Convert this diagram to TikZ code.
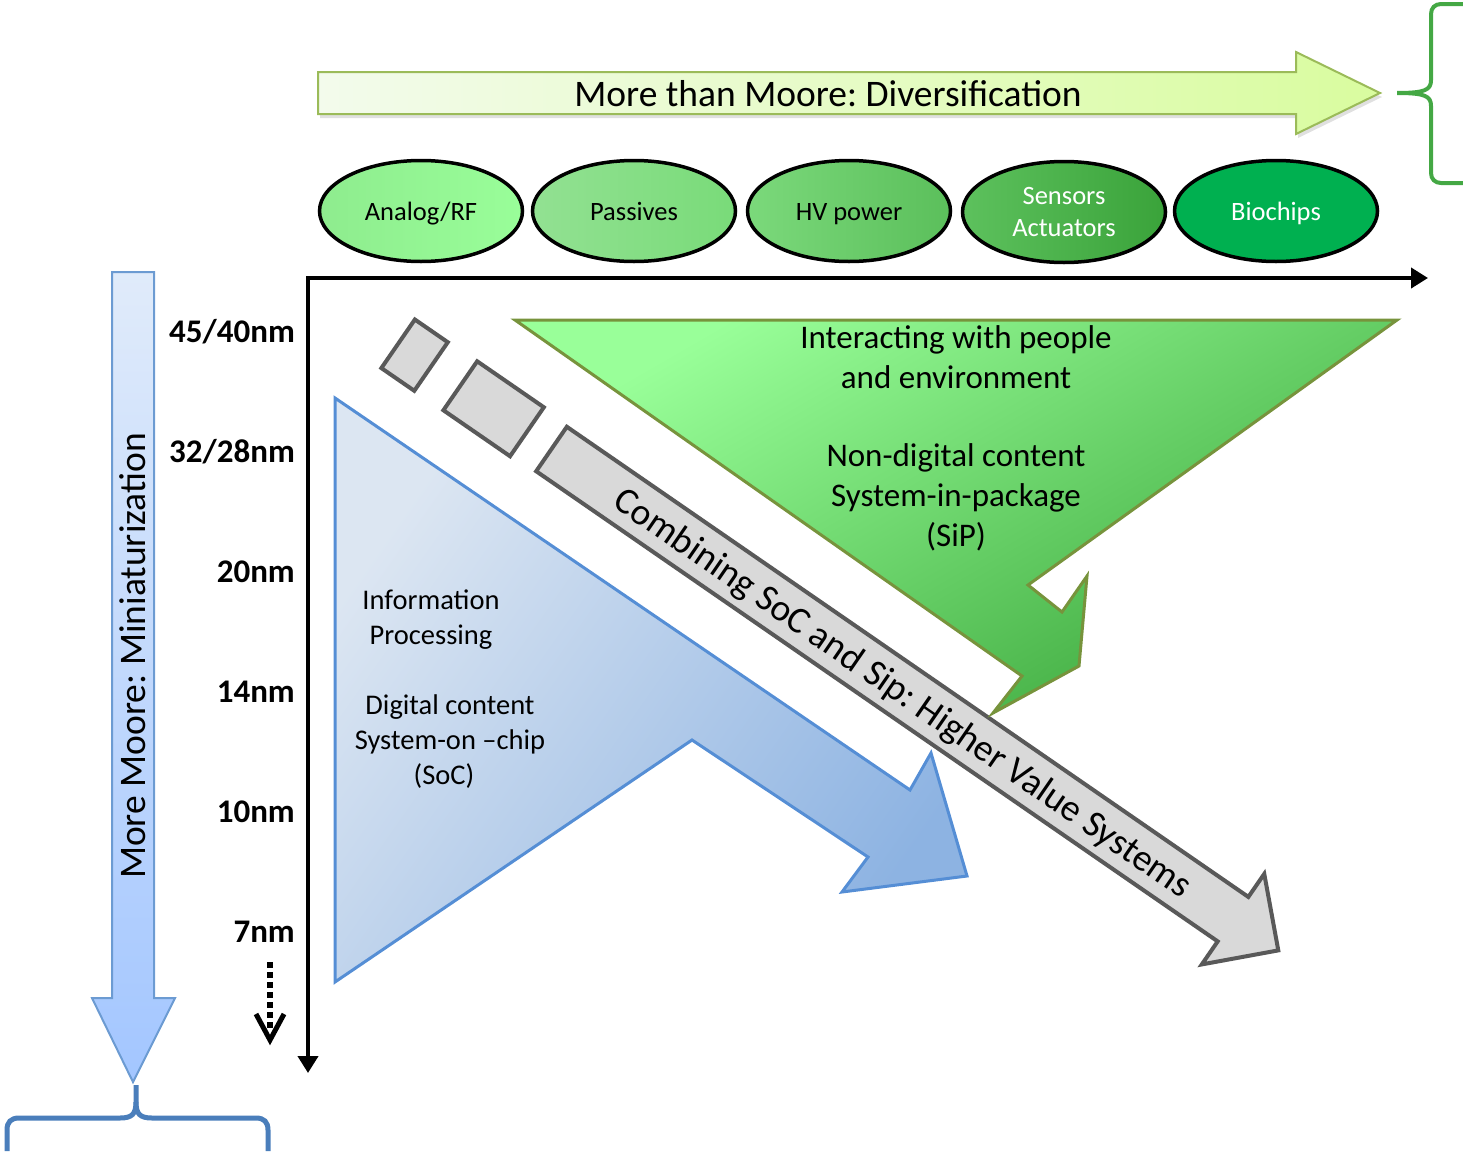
\documentclass[tikz,border=0pt]{standalone}
\usepackage{fontspec}
\setmainfont{Carlito}
\usetikzlibrary{arrows.meta,shapes.geometric}
\definecolor{topL}{HTML}{F3FBEC}
\definecolor{topR}{HTML}{D9FC9F}
\definecolor{topB}{HTML}{9BBB59}
\definecolor{eA1}{HTML}{8EEC8E}
\definecolor{eA2}{HTML}{99FE99}
\definecolor{eB1}{HTML}{92E192}
\definecolor{eB2}{HTML}{79DB79}
\definecolor{eC1}{HTML}{7BD97B}
\definecolor{eC2}{HTML}{5BBF5B}
\definecolor{eD1}{HTML}{5DC15D}
\definecolor{eD2}{HTML}{3AA33A}
\definecolor{eE}{HTML}{00B050}
\definecolor{gT}{HTML}{99FF99}
\definecolor{gB}{HTML}{3EA93E}
\definecolor{gBord}{HTML}{77933C}
\definecolor{bT}{HTML}{DCE6F2}
\definecolor{bB}{HTML}{8DB3E2}
\definecolor{bBord}{HTML}{558ED5}
\definecolor{grF}{HTML}{D9D9D9}
\definecolor{grB}{HTML}{595959}
\definecolor{lT}{HTML}{E0EBFA}
\definecolor{lB}{HTML}{A3C6FF}
\definecolor{lBord}{HTML}{6C9BD2}
\definecolor{bBrace}{HTML}{4A7EBB}
\definecolor{gBrace}{HTML}{44A844}
\tikzset{
  bigtxt/.style={font=\fontsize{37.5}{44}\selectfont},
  elltxt/.style={font=\fontsize{26.5}{32}\selectfont},
  onel/.style={text height=19pt, text depth=0pt},
  greentxt/.style={font=\fontsize{33}{40}\selectfont, align=center},
  bluetxt/.style={font=\fontsize{28.5}{35}\selectfont, align=center},
  nmlab/.style={font=\fontsize{33}{40}\selectfont\bfseries, anchor=east, inner sep=0pt},
  ellbox/.style={ellipse, draw=black, line width=3.5pt, minimum width=203pt, minimum height=101pt, inner sep=0pt, align=center},
  graybox/.style={draw=grB, fill=grF, line width=4pt, line join=miter},
  axisline/.style={line width=4pt, line join=miter},
}
\begin{document}
\frenchspacing
\begin{tikzpicture}[x=1pt,y=-1pt]
\useasboundingbox (0,0) rectangle (1463,1151);

% top arrow (shadow + arrow)
\begin{scope}[shift={(2,4)}]
\fill[black!12] (318,72) -- (1296,72) -- (1296,52) -- (1380,93) -- (1296,134) -- (1296,114) -- (318,114) -- cycle;
\end{scope}
\path[draw=topB, line width=2pt, left color=topL, right color=topR] (318,72) -- (1296,72) -- (1296,52) -- (1380,93) -- (1296,134) -- (1296,114) -- (318,114) -- cycle;
\node[bigtxt] (mtm) at (828,94) {More than Moore: Diversification};

% green brace
\draw[gBrace, line width=4pt] (1463,4) -- (1441,4) .. controls (1435,4) and (1431,8) .. (1431,14) -- (1431,80) .. controls (1431,90) and (1425,93) .. (1397,93) .. controls (1425,93) and (1431,96) .. (1431,106) -- (1431,173) .. controls (1431,179) and (1435,183) .. (1441,183) -- (1463,183);

% ellipses
\node[ellbox, left color=eA1, right color=eA2, elltxt, onel] (e1) at (421,211) {Analog/RF};
\node[ellbox, left color=eB1, right color=eB2, elltxt, onel] (e2) at (634,211) {Passives};
\node[ellbox, left color=eC1, right color=eC2, elltxt, onel] (e3) at (849,211) {HV power};
\node[ellbox, left color=eD1, right color=eD2, elltxt, text=white] (e4) at (1064,212) {Sensors\\Actuators};
\node[ellbox, fill=eE, elltxt, text=white, onel] (e5) at (1276,211) {Biochips};

% axes
\coordinate (o) at (308,278);
\coordinate (xe) at (1428,278);
\coordinate (ye) at (308,1073);
\draw[axisline, {Triangle[length=17pt,width=20pt]}-{Triangle[length=17pt,width=20pt]}] (ye) -- (o) -- (xe);

% left vertical arrow
\path[draw=lBord, line width=2pt, top color=lT, bottom color=lB] (112,272) -- (154,272) -- (154,998) -- (175,998) -- (133,1082) -- (92,998) -- (112,998) -- cycle;
\node[bigtxt, rotate=90] (mm) at (133,656) {More Moore: Miniaturization};

% blue brace
\draw[bBrace, line width=5pt] (7,1151) -- (7,1130) .. controls (7,1122) and (11,1118) .. (19,1118) -- (120,1118) .. controls (132,1118) and (136,1114) .. (136,1102) -- (136,1085);
\draw[bBrace, line width=5pt] (136,1102) .. controls (136,1114) and (140,1118) .. (152,1118) -- (256,1118) .. controls (264,1118) and (268,1122) .. (268,1130) -- (268,1151);

% node labels
\node[nmlab] (l45) at (295,332) {45/40nm};
\node[nmlab] (l32) at (295,452) {32/28nm};
\node[nmlab] (l20) at (295,572) {20nm};
\node[nmlab] (l14) at (295,692) {14nm};
\node[nmlab] (l10) at (295,812) {10nm};
\node[nmlab] (l7) at (295,932) {7nm};

% dotted arrow
\coordinate (d1) at (270,962);
\coordinate (d3) at (270,1030);
\coordinate (d2) at (270,1040);
\draw[line width=6pt, dash pattern=on 6pt off 4pt] (d1) -- (d3);
\draw[line width=5pt, line join=miter] (256,1014) -- (d2) -- (284,1014);

% gray arrow and boxes
\begin{scope}[shift={(551.5,449)}, rotate=-34.6]
  \draw[graybox] (-186,-29) rectangle (-146,30);
  \draw[graybox] (-111,-30) rectangle (-30,29.5);
  \draw[graybox] (0,-27) -- (828,-27) -- (828,-55) -- (883,0) -- (828,55) -- (828,27) -- (0,27) -- cycle;
  \node[bigtxt, transform shape] (comb) at (428,3) {Combining SoC and Sip: Higher Value Systems};
\end{scope}

% blue triangle arrow
\path[draw=bBord, line width=3pt, line join=miter, top color=bT, bottom color=bB, shading angle=55] (335,398) -- (910,790) -- (931,753) -- (967,876) -- (842,892) -- (868,857) -- (692,740) -- (335,982) -- cycle;
\node[bluetxt] (info) at (431,619.5) {Information\\Processing};
\node[bluetxt] (dig) at (450,742) {Digital content\\System-on –chip\\(SoC)\hspace*{12pt}};

% green triangle arrow
\path[draw=gBord, line width=3pt, line join=miter, top color=gT, bottom color=gB, shading angle=30] (515,320) -- (1397,320) -- (1028,585) -- (1062,612) -- (1087,576) -- (1079,666) -- (993,713) -- (1022,676) -- cycle;
\node[greentxt] (inter) at (956,357) {Interacting with people\\and environment};
\node[greentxt] (nondig) at (956,497) {Non-digital content\\System-in-package\\(SiP)};

\end{tikzpicture}
\end{document}
